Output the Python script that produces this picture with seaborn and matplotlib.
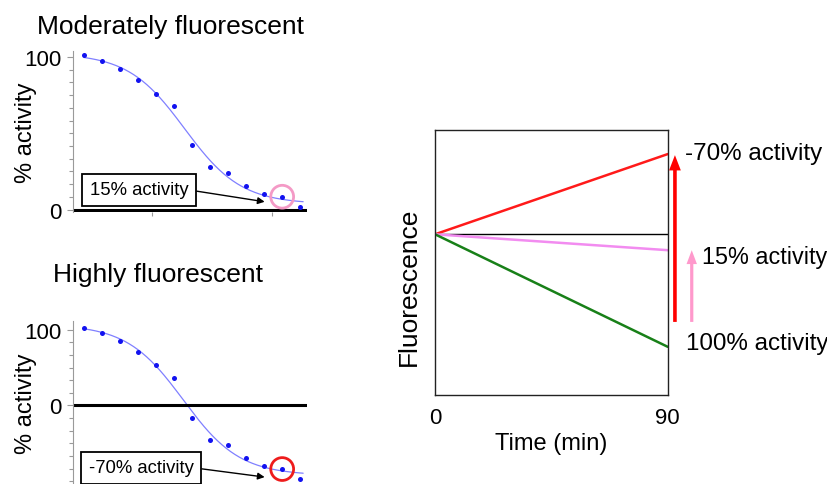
import numpy as np
import pandas as pd
import seaborn as sns
import matplotlib.pyplot as plt
from matplotlib.ticker import LogLocator, MultipleLocator, NullFormatter

sns.set_theme(style="white")
plt.rcParams['font.family'] = ['Liberation Sans', 'DejaVu Sans']
plt.rcParams['text.color'] = 'black'
plt.rcParams['axes.labelcolor'] = 'black'

# dose-response data (2-fold dilution series)
conc = [0.73, 1.46, 2.93, 5.86, 11.7, 23.4, 46.9, 93.8, 188, 375, 750, 1500, 3000]
moderate_act = [101, 97, 92, 85, 76, 68, 42, 28, 24, 15.7, 10.4, 8.5, 2]
high_act = [103, 96, 85.5, 70, 53, 36, -16, -45, -52, -69, -79.5, -84, -97]
highlight = 11  # circled point

# fluorescence vs time
time = [0, 90]
fluor_start = 60.6
series = ['-70% activity', '15% activity', '100% activity']
fluor_end = [90.9, 54.6, 18.1]
line_colors = ['#ff1a1a', '#f28cf0', '#188018']

blue = '#1212f0'
curve_blue = '#8080ff'
pink = '#f49ac6'
red = '#ee1c1c'


def fit_4pl(x, y):
    # crude least squares: grid over log IC50 and hill, linear solve for top/bottom
    lx = np.log10(x)
    y = np.asarray(y, float)
    best = None
    for lic in np.linspace(lx.min(), lx.max(), 160):
        for hill in np.linspace(0.4, 3.0, 66):
            s = 1 / (1 + 10 ** ((lx - lic) * hill))
            A = np.column_stack([s, 1 - s])
            coef = np.linalg.lstsq(A, y, rcond=None)[0]
            err = np.sum((A @ coef - y) ** 2)
            if best is None or err < best[0]:
                best = (err, lic, hill, coef)
    _, lic, hill, (top, bot) = best
    return lambda c: bot + (top - bot) / (1 + 10 ** ((np.log10(c) - lic) * hill))


def dose_panel(ax, vals, ylim, minor_step, label, circ_color, text_xy, tip_xy):
    f = fit_4pl(conc, vals)
    xs = np.logspace(np.log10(conc[0]), np.log10(conc[-1] * 1.12), 200)
    sns.lineplot(x=xs, y=f(xs), ax=ax, color=curve_blue, lw=0.9)
    sns.scatterplot(x=conc, y=vals, ax=ax, color=blue, s=13, linewidth=0, zorder=3)
    ax.axhline(0, color='black', lw=2.2, zorder=2)
    ax.scatter([conc[highlight]], [vals[highlight]], s=270, facecolors='none',
               edgecolors=circ_color, linewidths=2.0, zorder=4)
    ax.annotate(label, xy=tip_xy, xytext=text_xy, fontsize=13.3, ha='center', va='center',
                bbox=dict(boxstyle='square,pad=0.42', fc='white', ec='black', lw=1.3),
                arrowprops=dict(arrowstyle='-|>', color='black', lw=1.0, mutation_scale=10,
                                relpos=(1.0, 0.5), shrinkA=0, shrinkB=0), zorder=5)
    ax.set_xscale('log')
    ax.set_xlim(0.48, 3900)
    ax.set_ylim(*ylim)
    ax.xaxis.set_major_locator(LogLocator(base=10))
    ax.xaxis.set_minor_locator(LogLocator(base=10, subs=np.arange(2, 10)))
    ax.xaxis.set_major_formatter(NullFormatter())
    ax.xaxis.set_minor_formatter(NullFormatter())
    ax.set_yticks([0, 100])
    ax.set_yticklabels(['0', '100'])
    ax.yaxis.set_minor_locator(MultipleLocator(minor_step))
    ax.tick_params(which='both', colors='#9a9a9a', labelcolor='black', direction='out',
                   width=0.8, length=3, labelsize=16, pad=4.5)
    ax.tick_params(axis='y', which='major', length=4)
    ax.tick_params(bottom=True, left=True, which='both')
    for s in ['top', 'right', 'bottom']:
        ax.spines[s].set_visible(False)
    ax.spines['left'].set_color('#9a9a9a')
    ax.spines['left'].set_linewidth(0.8)
    ax.set_xlabel('')
    ax.set_ylabel('% activity', fontsize=17)
    ax.yaxis.set_label_coords(-0.155, 0.5)


fig = plt.figure(figsize=(8.28, 4.85), dpi=100)
ax1 = fig.add_axes([0.0882, 0.5608, 0.2826, 0.3326])
ax2 = fig.add_axes([0.0882, -0.0035, 0.2826, 0.3402])
ax3 = fig.add_axes([0.5254, 0.1841, 0.2810, 0.5458])

dose_panel(ax1, moderate_act, (-1.5, 104), 100 / 12, '15% activity', pink,
           (6.07, 13.0), (764, 5.2))
dose_panel(ax2, high_act, (-106, 112), 200 / 12, '-70% activity', red,
           (6.56, -82.3), (764, -94.6))

fig.text(171 / 828, 0.929, 'Moderately fluorescent', fontsize=19, ha='center', va='baseline')
fig.text(158 / 828, 0.418, 'Highly fluorescent', fontsize=19, ha='center', va='baseline')

# right panel
df = pd.DataFrame({
    'time': time * len(series),
    'fluor': [v for e in fluor_end for v in (fluor_start, e)],
    'series': [s for s in series for _ in time],
})
ax3.axhline(fluor_start, color='black', lw=1.0)
sns.lineplot(data=df, x='time', y='fluor', hue='series', hue_order=series,
             palette=line_colors, lw=1.8, legend=False, ax=ax3)
ax3.set_xlim(0, 90)
ax3.set_ylim(0, 100)
ax3.set_xticks([0, 90])
ax3.set_yticks([])
ax3.tick_params(axis='x', length=0, labelsize=16, pad=9, labelcolor='black')
for s in ax3.spines.values():
    s.set_color('#222222')
    s.set_linewidth(1.0)
ax3.set_xlabel('Time (min)', fontsize=17)
ax3.xaxis.set_label_coords(0.5, -0.14)
ax3.set_ylabel('Fluorescence', fontsize=19)
ax3.yaxis.set_label_coords(-0.062, 0.41)

ax3.annotate('', xy=(92.8, 90.5), xytext=(92.8, 27.5), annotation_clip=False,
             arrowprops=dict(facecolor='#ff0000', edgecolor='none', width=2.6,
                             headwidth=8.5, headlength=11, shrink=0))
ax3.annotate('', xy=(99.3, 54.6), xytext=(99.3, 27.5), annotation_clip=False,
             arrowprops=dict(facecolor='#ff99cc', edgecolor='none', width=2.3,
                             headwidth=7.5, headlength=10, shrink=0))
ax3.text(96.7, 91.3, '-70% activity', fontsize=17.4, va='center', ha='left', clip_on=False)
ax3.text(103.2, 52.3, '15% activity', fontsize=16.8, va='center', ha='left', clip_on=False)
ax3.text(97.1, 19.4, '100% activity', fontsize=17.4, va='center', ha='left', clip_on=False)

fig.savefig('out.png', dpi=100)
